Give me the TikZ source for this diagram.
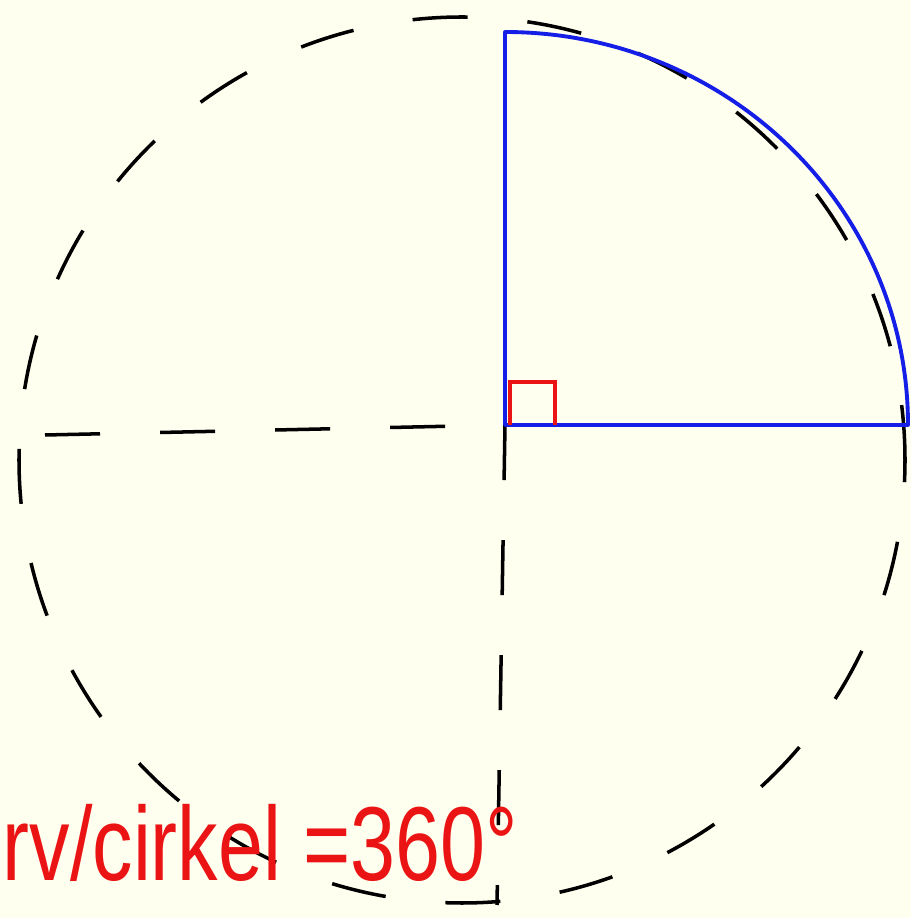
\documentclass[tikz,border=0pt]{standalone}
\usepackage{fontspec}
\setmainfont{Liberation Sans}
\definecolor{paper}{RGB}{255,255,240}
\definecolor{inkblue}{RGB}{20,30,230}
\definecolor{inkred}{RGB}{235,20,20}
\begin{document}
\begin{tikzpicture}[x=0.01cm,y=0.01cm,
  guide/.style={line width=1pt,dash pattern=on 0.55cm off 0.6cm},
  sector/.style={line width=1.1pt,draw=inkblue,line join=round}]
% Background
\fill[paper] (0,0) rectangle (911,918);
\useasboundingbox (0,0) rectangle (911,918);
% Points
\coordinate (O) at (505,493);
\coordinate (W) at (45,483);
\coordinate (S) at (497,13);
% Dashed circle and axes
\draw[guide] (462,458) circle[radius=443];
\draw[guide] (W) -- (O);
\draw[guide] (O) -- (S);
% Quarter sector
\draw[sector] (O) -- ++(403,0) arc[start angle=0,end angle=90,x radius=403,y radius=393] -- cycle;
% Right angle
\draw[inkred,line width=1pt] (O) ++(5,0) |- ++(45,43) -- ++(0,-43);
% Label
\node[inkred,font=\fontsize{23}{23}\selectfont,anchor=base west,inner sep=0pt,yscale=1.3,transform shape] (lbl) at (2,38) {rv/cirkel =360\textdegree};
\end{tikzpicture}
\end{document}
